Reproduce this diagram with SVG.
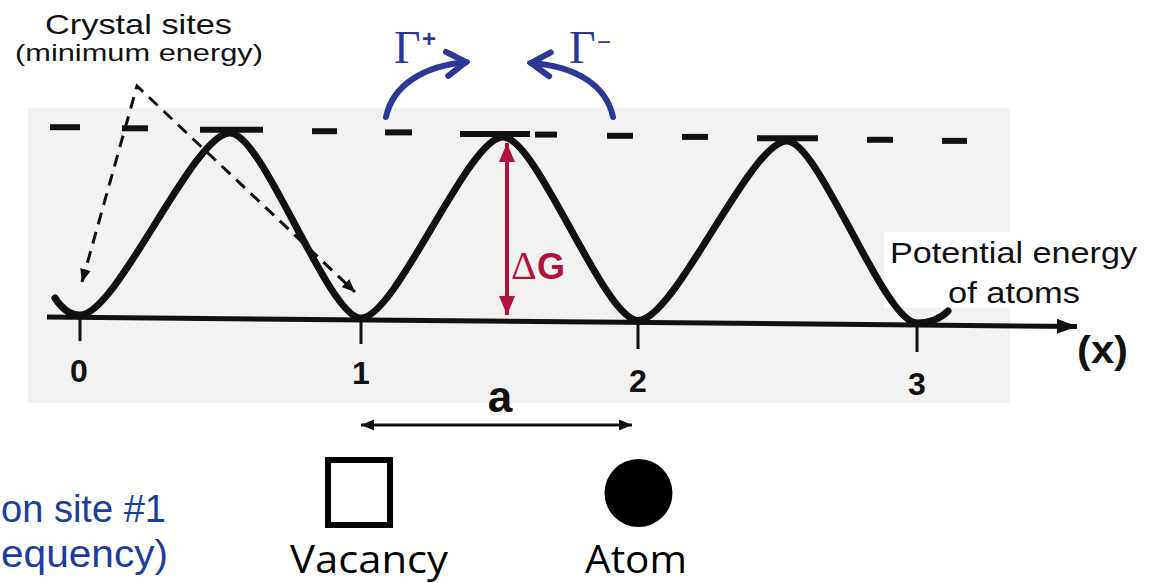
<svg xmlns="http://www.w3.org/2000/svg" width="1151" height="583" viewBox="0 0 1151 583">
<style>
.sans{font-family:"Liberation Sans",Arial,sans-serif;fill:#111}
.num{font-family:"Liberation Sans",Arial,sans-serif;font-weight:bold;font-size:32px;fill:#111;text-anchor:middle}
.cal{font-family:"Open Sans","Noto Sans",sans-serif;font-size:38px;fill:#000}
.blue{font-family:"Liberation Sans",Arial,sans-serif;font-size:38px;fill:#1b3e9d}
.gam{font-family:"Liberation Serif","Times New Roman",serif;font-size:46px;fill:#2d3795}
.dash{stroke:#111;stroke-width:6;fill:none}
.tick{stroke:#111;stroke-width:3}
</style>
<defs>
<marker id="ah" markerUnits="userSpaceOnUse" viewBox="-20 -8 21 16" refX="0" refY="0" markerWidth="21" markerHeight="16" orient="auto-start-reverse">
<path d="M0,0 L-20,-7.5 L-20,7.5 z" fill="#111"/>
</marker>
<marker id="ahs" markerUnits="userSpaceOnUse" viewBox="-13 -6 14 12" refX="0" refY="0" markerWidth="14" markerHeight="12" orient="auto-start-reverse">
<path d="M0,0 L-13,-5.5 L-13,5.5 z" fill="#111"/>
</marker>
<marker id="ahr" markerUnits="userSpaceOnUse" viewBox="-20 -9 21 18" refX="0" refY="0" markerWidth="21" markerHeight="18" orient="auto-start-reverse">
<path d="M0,0 L-19,-8 L-19,8 z" fill="#b3123f"/>
</marker>
<marker id="chev" markerUnits="userSpaceOnUse" viewBox="-26 -16 30 32" refX="0" refY="0" markerWidth="30" markerHeight="32" orient="auto">
<path d="M-19,-12 L0,0 L-19,12" fill="none" stroke="#2d3795" stroke-width="6" stroke-linecap="round" stroke-linejoin="miter"/>
</marker>
</defs>
<rect width="1151" height="583" fill="#fff"/>
<rect x="28" y="108" width="982" height="295" fill="#f2f2f2"/>
<rect x="884" y="232" width="260" height="76" fill="#fff"/>

<g id="energy-plot">
<g id="barrier-level">
<line class="dash" x1="50" y1="127.2" x2="80" y2="127.2"/>
<line class="dash" x1="122" y1="128.3" x2="148" y2="128.3"/>
<line class="dash" x1="200" y1="129.8" x2="263" y2="129.8"/>
<line class="dash" x1="312" y1="131.2" x2="337" y2="131.2"/>
<line class="dash" x1="385" y1="132.4" x2="412" y2="132.4"/>
<line class="dash" x1="460" y1="133.9" x2="530" y2="133.9"/>
<line class="dash" x1="535" y1="134.6" x2="557" y2="134.6"/>
<line class="dash" x1="607" y1="135.8" x2="633" y2="135.8"/>
<line class="dash" x1="682" y1="136.9" x2="708" y2="136.9"/>
<line class="dash" x1="757" y1="138.3" x2="818" y2="138.3"/>
<line class="dash" x1="867" y1="139.8" x2="893" y2="139.8"/>
<line class="dash" x1="942" y1="140.9" x2="967" y2="140.9"/>
</g>
<path id="potential-curve" d="M55,298 C62,309 70,315 80,315 C117,315 193,133 230,133 C263,133 328,318 361,318 C396,318 468,137 503,137 C537,137 604,320.5 638,320.5 C675,320.5 750,141 787,141 C819,141 884,323 917,323 C930,323 940,319 948,311" fill="none" stroke="#111" stroke-width="7" stroke-linecap="round"/>
<line id="x-axis" x1="47" y1="317" x2="1077" y2="326.5" stroke="#111" stroke-width="5" marker-end="url(#ah)"/>
<line class="tick" x1="80" y1="318" x2="80" y2="341"/>
<line class="tick" x1="361" y1="320" x2="361" y2="344"/>
<line class="tick" x1="638" y1="323" x2="638" y2="349"/>
<line class="tick" x1="917" y1="325" x2="917" y2="352"/>
<text class="num" x="79" y="382">0</text>
<text class="num" x="361" y="384">1</text>
<text class="num" x="638" y="392">2</text>
<text class="num" x="917" y="395">3</text>
</g>

<g id="connectors">
<path d="M82,282 L137,86 L355,292" fill="none" stroke="#111" stroke-width="3" stroke-dasharray="12 8" marker-start="url(#ahs)" marker-end="url(#ahs)"/>
<line x1="507" y1="143" x2="507" y2="315" stroke="#b3123f" stroke-width="4" marker-start="url(#ahr)" marker-end="url(#ahr)"/>
<path d="M386,117 C393,84 425,66 466,62" fill="none" stroke="#2d3795" stroke-width="6" stroke-linecap="round" marker-end="url(#chev)"/>
<path d="M613,117 C606,84 574,66 531,63" fill="none" stroke="#2d3795" stroke-width="6" stroke-linecap="round" marker-end="url(#chev)"/>
<line x1="361" y1="425" x2="632" y2="425" stroke="#111" stroke-width="3" marker-start="url(#ahs)" marker-end="url(#ahs)"/>
</g>

<g id="label-crystal-sites">
<text class="sans" x="45" y="34" font-size="28" textLength="187" lengthAdjust="spacingAndGlyphs">Crystal sites</text>
<text class="sans" x="15" y="61" font-size="24" textLength="248" lengthAdjust="spacingAndGlyphs">(minimum energy)</text>
</g>
<g id="label-gamma-plus">
<text class="gam" x="394" y="63">Γ</text>
<text x="429" y="47" font-family="Liberation Sans,Arial,sans-serif" font-weight="bold" font-size="24" fill="#2d3795" text-anchor="middle">+</text>
</g>
<g id="label-gamma-minus">
<text class="gam" x="569" y="63">Γ</text>
<text x="604" y="50" font-family="Liberation Sans,Arial,sans-serif" font-size="24" fill="#2d3795" text-anchor="middle">−</text>
</g>
<g id="label-dG">
<text x="511" y="279" font-family="Liberation Serif,serif" font-size="40" fill="#b3123f">Δ</text>
<text x="537" y="279" font-family="Liberation Sans,Arial,sans-serif" font-weight="bold" font-size="36" fill="#b3123f">G</text>
</g>
<g id="label-potential">
<text class="sans" x="890" y="263" font-size="30" textLength="247" lengthAdjust="spacingAndGlyphs">Potential energy</text>
<text class="sans" x="948" y="303" font-size="30" textLength="132" lengthAdjust="spacingAndGlyphs">of atoms</text>
</g>
<g id="label-x">
<text class="sans" x="1077" y="363" font-size="38" font-weight="bold" textLength="51" lengthAdjust="spacingAndGlyphs">(x)</text>
</g>
<g id="label-a">
<text class="sans" x="500" y="412" font-size="44" font-weight="bold" text-anchor="middle">a</text>
</g>
<g id="vacancy">
<rect x="328" y="460" width="62" height="65" fill="#fff" stroke="#000" stroke-width="6"/>
<text class="cal" x="290" y="573" textLength="158" lengthAdjust="spacingAndGlyphs">Vacancy</text>
</g>
<g id="atom">
<circle cx="638.5" cy="493" r="34" fill="#000"/>
<text class="cal" x="585" y="573" textLength="102" lengthAdjust="spacingAndGlyphs">Atom</text>
</g>
<g id="label-blue">
<text class="blue" x="1" y="522" textLength="165" lengthAdjust="spacingAndGlyphs">on site #1</text>
<text class="blue" x="1" y="567" textLength="167" lengthAdjust="spacingAndGlyphs">equency)</text>
</g>
</svg>
